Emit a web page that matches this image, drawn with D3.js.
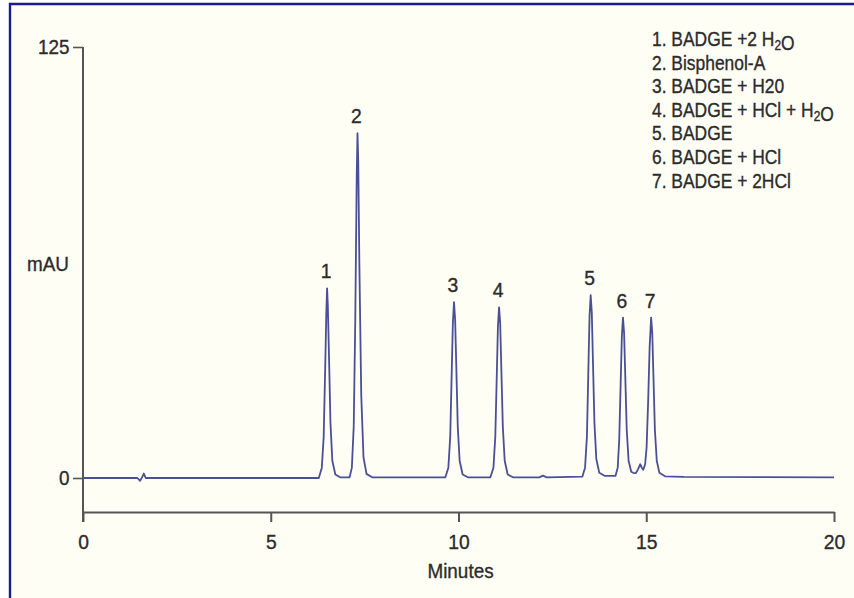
<!DOCTYPE html>
<html>
<head>
<meta charset="utf-8">
<script src="https://cdn.jsdelivr.net/npm/d3@7"></script>
<style>
  html, body { margin: 0; padding: 0; background: #ffffff; }
  svg { display: block; }
  text { font-family: "Liberation Sans", Arial, sans-serif; fill: #2b2b2b; stroke: #2b2b2b; stroke-width: 0.35px; }
</style>
</head>
<body>
<svg id="chart" width="854" height="598"></svg>
<script>
// ---- data ----
const traceMinutes = [0, 1.45, 1.52, 1.57, 1.62, 1.67, 6.28,
  6.36, 6.41, 6.45, 6.48, 6.50, 6.52, 6.55, 6.59, 6.64, 6.72, 6.85, 7.10,
  7.16, 7.21, 7.25, 7.29, 7.31, 7.33, 7.36, 7.41, 7.47, 7.55, 7.70, 9.65,
  9.73, 9.78, 9.82, 9.85, 9.88, 9.91, 9.94, 9.98, 10.03, 10.11, 10.25, 10.85,
  10.93, 10.98, 11.02, 11.05, 11.08, 11.11, 11.14, 11.18, 11.23, 11.31, 11.45,
  12.15, 12.25, 12.35, 13.30,
  13.37, 13.42, 13.46, 13.49, 13.52, 13.55, 13.58, 13.62, 13.67, 13.75, 13.90, 14.18,
  14.24, 14.28, 14.32, 14.35, 14.38, 14.41, 14.44, 14.48, 14.53, 14.60, 14.65, 14.72,
  14.78, 14.84, 14.88, 14.92, 14.97,
  15.01, 15.05, 15.09, 15.13, 15.16, 15.19, 15.23, 15.28, 15.35, 15.50, 16.00, 20];
const traceMAU = [0, 0, -0.8, 0.1, 1.3, 0, 0,
  3, 12, 32, 48, 55, 50, 36, 16, 5, 1, 0.2, 0.2,
  3, 15, 45, 88, 100, 92, 62, 24, 6, 1.2, 0.2, 0.2,
  3, 12, 31, 45, 51, 46, 33, 15, 5, 1, 0.2, 0.2,
  3, 12, 30, 44, 49.5, 45, 32, 15, 5, 1, 0.2,
  0.2, 0.7, 0.2, 0.4,
  3, 12, 32, 47, 53, 48, 34, 16, 5.5, 1.5, 0.6, 0.6,
  3, 11, 28, 41, 46.5, 42, 30, 14, 5, 1.8, 1.5, 1.4,
  2.5, 4, 3, 2.4, 4,
  9, 22, 38, 46.5, 42, 30, 14, 5, 1.5, 0.5, 0.3, 0.2];

const peakNumbers = ["1", "2", "3", "4", "5", "6", "7"];
const peakMinutes = [6.50, 7.31, 9.88, 11.08, 13.52, 14.38, 15.13];
const peakMAU     = [55, 100, 51, 49.5, 53, 46.5, 46.5];

const legendItems = [
  "1. BADGE +2 H{2}O",
  "2. Bisphenol-A",
  "3. BADGE + H20",
  "4. BADGE + HCl + H{2}O",
  "5. BADGE",
  "6. BADGE + HCl",
  "7. BADGE + 2HCl"
];

const xTicks = [0, 5, 10, 15, 20];
const yTicks = [0, 125];
const xTitle = "Minutes";
const yTitle = "mAU";

// ---- drawing ----
const svg = d3.select("#chart");
const textColor = "#2b2b2b";

// frame: cream panel with blue top/left border
svg.append("rect").attr("x", 0).attr("y", 0).attr("width", 854).attr("height", 598).attr("fill", "#ffffff");
svg.append("rect").attr("x", 10).attr("y", 4).attr("width", 844).attr("height", 594).attr("fill", "#fefef4");
svg.append("line").attr("x1", 9).attr("x2", 854).attr("y1", 4).attr("y2", 4)
  .attr("stroke", "#1b1b90").attr("stroke-width", 2.4);
svg.append("line").attr("x1", 10).attr("x2", 10).attr("y1", 3).attr("y2", 598)
  .attr("stroke", "#1b1b90").attr("stroke-width", 2.4);

const x = d3.scaleLinear().domain([0, 20]).range([83, 834]);
const y = d3.scaleLinear().domain([0, 125]).range([478, 47]);
const xAxisY = 512;
const axisColor = "#555555";

// helper: place a horizontally condensed text
function condText(parent, px, py, size, sx, anchor) {
  return parent.append("text")
    .attr("transform", `translate(${px},${py}) scale(${sx},1)`)
    .attr("text-anchor", anchor || "start")
    .style("font-size", size + "px");
}

// y axis line (runs down to the x axis tick)
svg.append("line")
  .attr("x1", x(0)).attr("x2", x(0))
  .attr("y1", y(125)).attr("y2", xAxisY + 10)
  .attr("stroke", axisColor).attr("stroke-width", 2);

const yAxis = svg.append("g")
  .attr("transform", `translate(${x(0)},0)`)
  .call(d3.axisLeft(y).tickValues(yTicks).tickSize(10).tickPadding(5).tickFormat(d3.format("d")));
yAxis.select(".domain").remove();
yAxis.selectAll(".tick line").attr("stroke", axisColor).attr("stroke-width", 1.6);
yAxis.selectAll(".tick text").style("font-size", "21px").attr("fill", textColor)
  .attr("font-family", null).attr("transform", "scale(0.9,1)");

const xAxis = svg.append("g")
  .attr("transform", `translate(0,${xAxisY})`)
  .call(d3.axisBottom(x).tickValues(xTicks).tickSize(10).tickSizeOuter(0).tickPadding(12));
xAxis.select(".domain").attr("stroke", axisColor).attr("stroke-width", 2.2);
xAxis.selectAll(".tick line").attr("stroke", axisColor).attr("stroke-width", 2);
xAxis.selectAll(".tick text").style("font-size", "21px").attr("fill", textColor)
  .attr("font-family", null).attr("transform", "scale(0.92,1)");

// axis titles
condText(svg, x(10) + 2, 578, 21, 0.9, "middle").text(xTitle);
condText(svg, 48, 271, 21, 0.9, "middle").text(yTitle);

// trace
const pts = traceMinutes.map((t, i) => [t, traceMAU[i]]);
const line = d3.line().x(d => x(d[0])).y(d => y(d[1]));
svg.append("path").datum(pts)
  .attr("d", line)
  .attr("fill", "none")
  .attr("stroke", "#4a4f96")
  .attr("stroke-width", 1.8)
  .attr("stroke-linejoin", "round");

// peak labels
peakNumbers.forEach((d, i) => {
  condText(svg, x(peakMinutes[i]) - 1, y(peakMAU[i]) - 10, 21, 0.92, "middle").text(d);
});

// legend
legendItems.forEach((s, i) => {
  const t = condText(svg, 652, 46 + i * 23.6, 20.5, 0.85, "start");
  const parts = s.split(/(\{[^}]*\})/);
  parts.forEach(p => {
    if (!p) return;
    if (p.startsWith("{")) {
      t.append("tspan").attr("dy", 4).style("font-size", "14px").text(p.slice(1, -1));
      t.append("tspan").attr("dy", -4).text("");
    } else {
      t.append("tspan").text(p);
    }
  });
});
</script>
</body>
</html>
